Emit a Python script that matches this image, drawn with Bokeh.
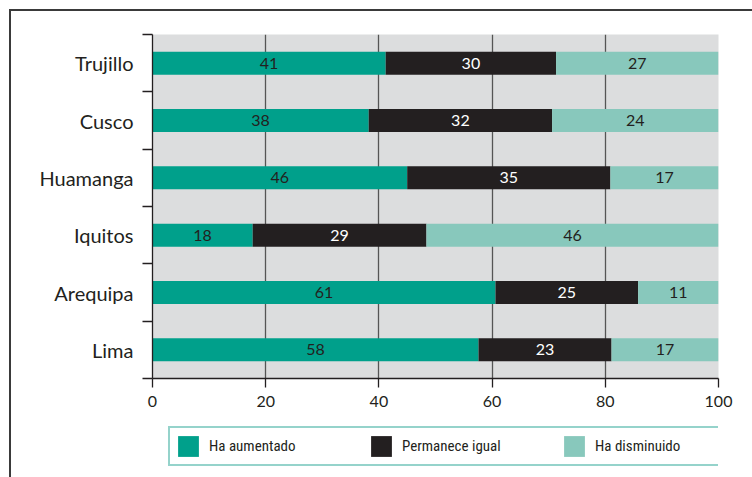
from bokeh.plotting import figure
from bokeh.layouts import column
from bokeh.models import ColumnDataSource, FixedTicker, Legend, LegendItem
from bokeh.core.properties import value
from bokeh.embed import file_html
from bokeh.resources import INLINE

# ---- data (bottom to top) ----
cities = ["Lima", "Arequipa", "Iquitos", "Huamanga", "Cusco", "Trujillo"]
aumentado = [57.6, 60.6, 17.7, 45.0, 38.2, 41.2]
igual = [23.5, 25.2, 30.7, 35.9, 32.4, 30.1]
disminuido = [18.9, 14.2, 51.6, 19.1, 29.4, 28.7]
aumentado_lbl = ["58", "61", "18", "46", "38", "41"]
igual_lbl = ["23", "25", "29", "35", "32", "30"]
disminuido_lbl = ["17", "11", "46", "17", "24", "27"]
series_names = ["Ha aumentado", "Permanece igual", "Ha disminuido"]
x_ticks = [0, 20, 40, 60, 80, 100]
grid_ticks = [20, 40, 60, 80]

colors = ["#00A08B", "#231F20", "#88C8BC"]
label_colors = ["#231F20", "#FFFFFF", "#231F20"]
FONT = "Lato"
COND = "Roboto Condensed, Liberation Sans Narrow, DejaVu Sans Condensed, sans-serif"

n = len(cities)
ys = [i + 0.5 for i in range(n)]
series = [aumentado, igual, disminuido]
labels = [aumentado_lbl, igual_lbl, disminuido_lbl]

# ---- main chart ----
p = figure(width=741, height=405, x_range=(0, 100), y_range=(0, n),
           output_backend="svg", toolbar_location=None,
           min_border_left=141, min_border_top=23, min_border_right=34,
           min_border_bottom=38)
p.background_fill_color = "#DCDDDE"
p.border_fill_color = "white"
p.outline_line_color = None

sources = []
left = [0.0] * n
for vals, lbls, col, lcol in zip(series, labels, colors, label_colors):
    right = [a + b for a, b in zip(left, vals)]
    mid = [(a + b) / 2 for a, b in zip(left, right)]
    src = ColumnDataSource(dict(y=ys, left=left, right=right, mid=mid, lbl=lbls))
    sources.append(src)
    p.hbar(y="y", left="left", right="right", height=0.4, fill_color=col,
           line_color=None, source=src)
    p.text(x="mid", y="y", text="lbl", source=src, text_align="center",
           text_baseline="middle", text_font=value(FONT),
           text_font_size="16px", text_color=lcol)
    left = right

# x grid
p.ygrid.visible = False
p.xgrid.ticker = FixedTicker(ticks=grid_ticks)
p.xgrid.grid_line_color = "#555555"
p.xgrid.grid_line_width = 1.3

# x axis
xa = p.xaxis[0]
xa.ticker = FixedTicker(ticks=x_ticks)
xa.major_tick_out = 9
xa.major_tick_in = 0
xa.minor_tick_line_color = None
xa.axis_line_color = "#231F20"
xa.axis_line_width = 1.3
xa.major_tick_line_color = "#231F20"
xa.major_tick_line_width = 1.3
xa.major_label_text_font = FONT
xa.major_label_text_font_size = "16px"
xa.major_label_text_color = "#231F20"
xa.major_label_standoff = 8

# y axis: labels at band centres, ticks at band boundaries
ya = p.yaxis[0]
ya.ticker = FixedTicker(ticks=ys, minor_ticks=list(range(n + 1)))
ya.major_label_overrides = {y: c for y, c in zip(ys, cities)}
ya.major_tick_out = 0
ya.major_tick_in = 0
ya.minor_tick_out = 10
ya.minor_tick_in = 0
ya.minor_tick_line_color = "#231F20"
ya.minor_tick_line_width = 1.3
ya.axis_line_color = "#231F20"
ya.axis_line_width = 1.3
ya.major_label_text_font = FONT
ya.major_label_text_font_size = "20px"
ya.major_label_text_color = "#231F20"
ya.major_label_standoff = 9

# ---- legend strip (keys reuse the series data, hidden in this strip) ----
lg = figure(width=741, height=61, x_range=(0, 100), y_range=(0, n),
            output_backend="svg", toolbar_location=None,
            x_axis_location=None, y_axis_location=None, min_border=0)
lg.grid.visible = False
lg.outline_line_color = None
lg.background_fill_color = "white"
lg.border_fill_color = "white"
keys = [lg.hbar(y="y", left="left", right="right", height=0.4, fill_color=c,
                line_color=None, source=s, visible=False)
        for c, s in zip(colors, sources)]
legend = Legend(
    items=[LegendItem(label=nm, renderers=[r]) for nm, r in zip(series_names, keys)],
    orientation="horizontal", location=(16, 11),
    glyph_width=26, glyph_height=26, label_standoff=8, label_width=118,
    spacing=41, padding=5, margin=0,
    border_line_color="#2BA898", border_line_width=2,
    label_text_font=COND, label_text_font_size="15px",
    label_text_color="#231F20", background_fill_color="white",
    inactive_fill_alpha=0,
)
lg.add_layout(legend)

layout = column(p, lg, spacing=0)
layout.styles = {"margin-top": "9px", "margin-left": "9px",
                 "border-top": "2px solid #3a3a3a", "border-left": "2px solid #3a3a3a"}

open("out.html", "w").write(file_html(layout, INLINE))
